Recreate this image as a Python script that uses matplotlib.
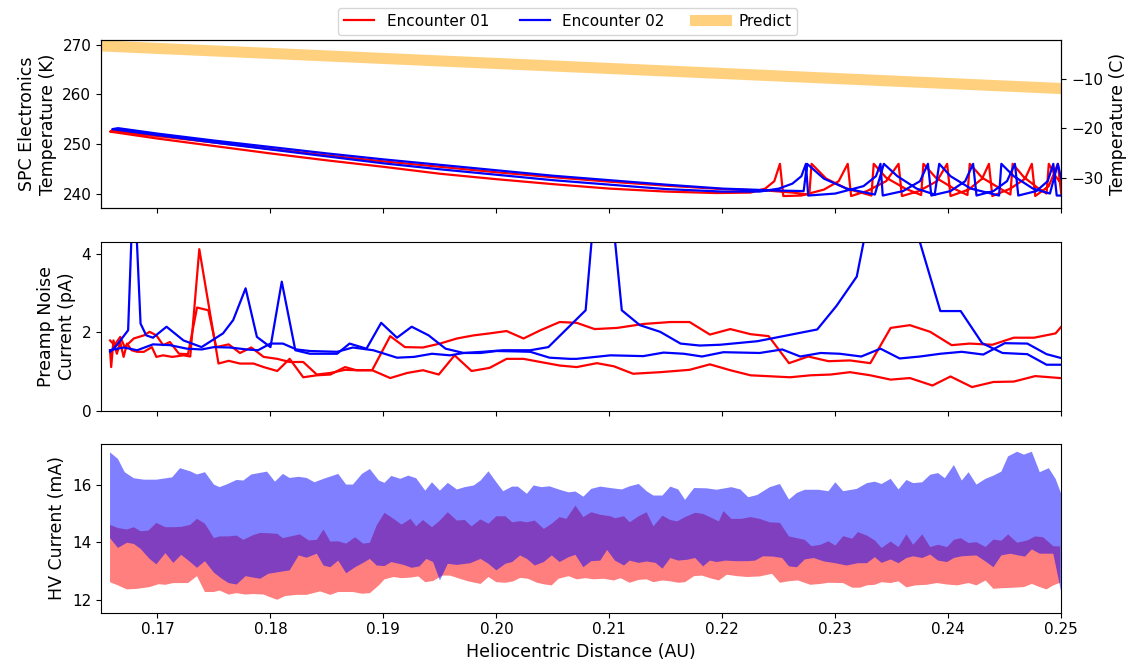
import matplotlib
matplotlib.use("Agg")
import matplotlib.pyplot as plt
from matplotlib.lines import Line2D

plt.rcParams['font.size'] = 11
plt.rcParams['axes.labelsize'] = 12.5

# --- SPC electronics temperature (K), two legs per encounter ---
e1_in_x = [0.1658, 0.170, 0.175, 0.180, 0.185, 0.190, 0.195, 0.200, 0.205, 0.210, 0.215, 0.2195,
           0.2225, 0.2238, 0.2246, 0.2251, 0.2254, 0.2270, 0.2290, 0.2303, 0.2311, 0.2314, 0.2328,
           0.2345, 0.2356, 0.2359, 0.2374, 0.2390, 0.2399, 0.2402, 0.2418, 0.2430, 0.2436, 0.2439,
           0.2455, 0.2468, 0.2474, 0.2477, 0.2489, 0.2497, 0.2500]
e1_in_t = [252.5, 251.1, 249.6, 248.1, 246.7, 245.4, 244.0, 242.9, 241.9, 241.0, 240.4, 240.1,
           240.2, 241.0, 242.5, 246.0, 239.5, 239.6, 240.8, 242.5, 246.0, 239.5, 240.5,
           242.5, 246.0, 239.5, 240.5, 242.5, 246.0, 239.5, 240.8, 243.0, 246.0, 239.5,
           241.0, 243.0, 246.0, 239.5, 241.5, 246.0, 240.0]
e1_out_x = [0.1660, 0.170, 0.175, 0.180, 0.185, 0.190, 0.195, 0.200, 0.205, 0.210, 0.215, 0.220,
            0.2240, 0.2262, 0.2277, 0.2279, 0.2292, 0.2310, 0.2332, 0.2334, 0.2345, 0.2362, 0.2376,
            0.2378, 0.2389, 0.2405, 0.2417, 0.2419, 0.2430, 0.2446, 0.2455, 0.2457, 0.2467, 0.2480,
            0.2487, 0.2489, 0.2495, 0.2500]
e1_out_t = [252.8, 251.6, 250.3, 249.0, 247.7, 246.5, 245.4, 244.3, 243.3, 242.4, 241.6, 240.9,
            240.6, 240.2, 239.8, 246.0, 243.0, 241.0, 239.6, 246.0, 243.2, 241.0, 239.7,
            246.0, 243.2, 241.0, 239.7, 246.0, 243.2, 241.0, 239.8, 246.0, 243.3, 241.0,
            240.0, 246.0, 243.5, 242.0]
e2_in_x = [0.1660, 0.170, 0.175, 0.180, 0.185, 0.190, 0.195, 0.200, 0.205, 0.210, 0.215, 0.220,
           0.2233, 0.2250, 0.2262, 0.2270, 0.2274, 0.2276, 0.2300, 0.2325, 0.2336, 0.2340, 0.2342,
           0.2360, 0.2375, 0.2382, 0.2385, 0.2402, 0.2415, 0.2422, 0.2425, 0.2440, 0.2452, 0.2459,
           0.2462, 0.2478, 0.2488, 0.2493, 0.2496, 0.2500]
e2_in_t = [253.0, 251.8, 250.3, 248.9, 247.5, 246.1, 244.9, 243.8, 242.7, 241.8, 240.9, 240.4,
           240.4, 241.0, 242.0, 243.5, 246.0, 239.6, 240.0, 241.5, 243.5, 246.0, 239.6,
           240.5, 242.5, 246.0, 239.6, 240.5, 242.5, 246.0, 239.6, 240.5, 242.5, 246.0,
           239.6, 240.5, 242.5, 246.0, 239.6, 239.6]
e2_out_x = [0.1665, 0.170, 0.175, 0.180, 0.185, 0.190, 0.195, 0.200, 0.205, 0.210, 0.215, 0.220,
            0.2250, 0.2272, 0.2275, 0.2290, 0.2310, 0.2335, 0.2343, 0.2355, 0.2372, 0.2388, 0.2392,
            0.2402, 0.2420, 0.2445, 0.2447, 0.2458, 0.2475, 0.2490, 0.2497, 0.2500]
e2_out_t = [253.2, 252.1, 250.7, 249.4, 248.1, 246.9, 245.8, 244.7, 243.6, 242.7, 241.8, 241.0,
            240.6, 240.5, 246.0, 243.0, 241.0, 239.8, 246.0, 243.5, 241.0, 239.8, 246.0,
            243.5, 241.0, 239.6, 246.0, 243.5, 241.0, 240.0, 246.0, 243.0]
predict_x = [0.165, 0.250]
predict_t = [269.8, 261.2]

# --- preamp noise current (pA) ---
n1a_x = [0.1658, 0.1659, 0.1661, 0.1664, 0.1667, 0.1670, 0.1673, 0.1677, 0.1682, 0.1688, 0.1695,
         0.1699, 0.1705, 0.1713, 0.1723, 0.1729, 0.1737, 0.1754, 0.1763, 0.1773, 0.1785, 0.1794,
         0.1806, 0.1817, 0.1829, 0.1841, 0.1853, 0.1866, 0.1876, 0.1890, 0.1906, 0.1919, 0.1935,
         0.1950, 0.1965, 0.1980, 0.1994, 0.2009, 0.2024, 0.2039, 0.2056, 0.2071, 0.2087, 0.2107,
         0.2130, 0.2154, 0.2171, 0.2189, 0.2207, 0.2225, 0.2241, 0.2259, 0.2276, 0.2294, 0.2313,
         0.2331, 0.2349, 0.2366, 0.2384, 0.2403, 0.2419, 0.2439, 0.2458, 0.2476, 0.2495, 0.2500]
n1a_y = [1.54, 1.11, 1.79, 1.45, 1.75, 1.37, 1.71, 1.54, 1.50, 1.50, 1.62,
         1.37, 1.41, 1.37, 1.41, 1.38, 4.12, 1.20, 1.27, 1.20, 1.20, 1.11,
         1.01, 1.32, 0.85, 0.90, 0.92, 1.11, 1.03, 1.03, 1.90, 1.62, 1.61,
         1.71, 1.84, 1.92, 1.97, 2.03, 1.84, 2.05, 2.26, 2.24, 2.08, 2.11,
         2.21, 2.26, 2.26, 1.94, 2.08, 1.95, 1.90, 1.21, 1.38, 1.26, 1.28,
         1.21, 2.11, 2.18, 2.01, 1.67, 1.71, 1.68, 1.86, 1.86, 1.97, 2.14]
n1b_x = [0.1658, 0.1662, 0.1667, 0.1671, 0.1679, 0.1688, 0.1693, 0.1699, 0.1705, 0.1711, 0.1719,
         0.1727, 0.1735, 0.1745, 0.1752, 0.1763, 0.1773, 0.1783, 0.1794, 0.1806, 0.1817, 0.1829,
         0.1841, 0.1853, 0.1866, 0.1876, 0.1890, 0.1906, 0.1921, 0.1935, 0.1949, 0.1963, 0.1978,
         0.1994, 0.2009, 0.2024, 0.2039, 0.2056, 0.2071, 0.2089, 0.2104, 0.2121, 0.2145, 0.2171,
         0.2189, 0.2207, 0.2225, 0.2260, 0.2278, 0.2296, 0.2313, 0.2331, 0.2349, 0.2366, 0.2386,
         0.2402, 0.2421, 0.2440, 0.2458, 0.2477, 0.2499]
n1b_y = [1.79, 1.67, 1.88, 1.62, 1.84, 1.92, 2.01, 1.92, 1.67, 1.75, 1.45,
         1.44, 2.63, 2.56, 1.62, 1.69, 1.47, 1.61, 1.37, 1.32, 1.24, 1.24,
         0.92, 0.96, 1.04, 1.03, 1.03, 0.83, 0.96, 1.03, 0.92, 1.41, 1.01,
         1.09, 1.32, 1.32, 1.24, 1.15, 1.11, 1.21, 1.13, 0.94, 0.98, 1.04,
         1.18, 1.03, 0.90, 0.85, 0.90, 0.92, 0.98, 0.90, 0.79, 0.83, 0.64,
         0.87, 0.60, 0.73, 0.74, 0.88, 0.83]
n2a_x = [0.1658, 0.1664, 0.1674, 0.1679, 0.1685, 0.1690, 0.1696, 0.1708, 0.1723, 0.1739, 0.1758,
         0.1767, 0.1778, 0.1788, 0.1800, 0.1810, 0.1822, 0.1835, 0.1859, 0.1870, 0.1885, 0.1898,
         0.1912, 0.1925, 0.1940, 0.1955, 0.1971, 0.1988, 0.2006, 0.2030, 0.2046, 0.2079, 0.2094,
         0.2111, 0.2127, 0.2145, 0.2163, 0.2180, 0.2198, 0.2231, 0.2284, 0.2301, 0.2319, 0.2345,
         0.2393, 0.2411, 0.2430, 0.2448, 0.2470, 0.2487, 0.2500]
n2a_y = [1.50, 1.67, 2.05, 6.10, 2.22, 1.92, 1.86, 2.14, 1.79, 1.62, 1.97,
         2.31, 3.12, 1.88, 1.62, 3.29, 1.54, 1.45, 1.45, 1.71, 1.58, 2.24,
         1.86, 2.14, 1.92, 1.58, 1.47, 1.50, 1.54, 1.54, 1.62, 2.56, 7.60,
         2.56, 2.18, 2.01, 1.71, 1.66, 1.68, 1.77, 2.07, 2.67, 3.42, 7.20,
         2.54, 2.54, 1.72, 1.47, 1.44, 1.17, 1.17]
n2b_x = [0.1658, 0.1670, 0.1682, 0.1696, 0.1711, 0.1726, 0.1739, 0.1750, 0.1764, 0.1779, 0.1789,
         0.1800, 0.1811, 0.1823, 0.1835, 0.1859, 0.1873, 0.1891, 0.1912, 0.1927, 0.1943, 0.1959,
         0.1971, 0.1986, 0.2000, 0.2018, 0.2030, 0.2047, 0.2065, 0.2071, 0.2101, 0.2130, 0.2148,
         0.2166, 0.2182, 0.2201, 0.2233, 0.2253, 0.2269, 0.2287, 0.2304, 0.2323, 0.2340, 0.2357,
         0.2375, 0.2393, 0.2412, 0.2431, 0.2450, 0.2470, 0.2487, 0.2500]
n2b_y = [1.54, 1.61, 1.54, 1.69, 1.67, 1.58, 1.56, 1.62, 1.61, 1.56, 1.54,
         1.71, 1.71, 1.56, 1.52, 1.50, 1.61, 1.54, 1.35, 1.37, 1.45, 1.41,
         1.47, 1.47, 1.52, 1.51, 1.50, 1.35, 1.32, 1.32, 1.41, 1.39, 1.48,
         1.45, 1.38, 1.49, 1.47, 1.56, 1.38, 1.47, 1.45, 1.38, 1.58, 1.33,
         1.38, 1.45, 1.50, 1.43, 1.72, 1.71, 1.44, 1.34]

# --- HV current (mA): envelope edges for each encounter ---
hv2_top_x = [0.1658, 0.1665, 0.1671, 0.1679, 0.1688, 0.1699, 0.1713, 0.1720, 0.1729, 0.1735,
             0.1742, 0.1750, 0.1755, 0.1761, 0.1770, 0.1776, 0.1783, 0.1797, 0.1804, 0.1811,
             0.1817, 0.1825, 0.1832, 0.1839, 0.1847, 0.1860, 0.1867, 0.1873, 0.1881, 0.1888,
             0.1896, 0.1901, 0.1907, 0.1915, 0.1922, 0.1929, 0.1937, 0.1943, 0.1950, 0.1957,
             0.1965, 0.1972, 0.1980, 0.1986, 0.1993, 0.2000, 0.2006, 0.2014, 0.2019, 0.2027,
             0.2033, 0.2040, 0.2047, 0.2056, 0.2064, 0.2070, 0.2077, 0.2084, 0.2092, 0.2101,
             0.2111, 0.2118, 0.2126, 0.2133, 0.2139, 0.2147, 0.2154, 0.2161, 0.2167, 0.2175,
             0.2186, 0.2195, 0.2208, 0.2216, 0.2223, 0.2231, 0.2242, 0.2251, 0.2259, 0.2266,
             0.2273, 0.2285, 0.2294, 0.2300, 0.2307, 0.2319, 0.2328, 0.2335, 0.2341, 0.2349,
             0.2356, 0.2363, 0.2369, 0.2377, 0.2384, 0.2391, 0.2397, 0.2405, 0.2412, 0.2418,
             0.2425, 0.2433, 0.2440, 0.2447, 0.2453, 0.2461, 0.2467, 0.2474, 0.2481, 0.2489,
             0.2495, 0.2500]
hv2_top = [17.12, 16.89, 16.43, 16.22, 16.17, 16.17, 16.25, 16.57, 16.46, 16.35,
           16.43, 16.00, 15.91, 16.00, 16.16, 16.14, 16.35, 16.45, 16.10, 16.37,
           16.23, 16.27, 16.23, 16.08, 16.20, 16.37, 16.00, 16.00, 16.37, 16.54,
           16.14, 16.06, 16.30, 16.20, 16.31, 16.22, 15.79, 16.08, 15.79, 16.06,
           15.83, 15.91, 15.97, 16.14, 16.46, 16.08, 15.77, 15.93, 15.93, 15.68,
           15.97, 15.91, 15.94, 15.82, 15.73, 15.76, 15.58, 15.85, 15.93, 15.88,
           15.83, 15.94, 16.02, 15.77, 15.62, 15.62, 15.93, 15.83, 15.47, 15.88,
           15.87, 15.82, 15.91, 15.83, 15.56, 15.64, 15.91, 16.02, 15.48, 15.71,
           15.82, 15.82, 15.77, 16.08, 15.77, 15.85, 16.05, 16.10, 16.02, 16.20,
           15.83, 16.16, 16.05, 16.08, 16.34, 16.40, 16.22, 16.68, 16.14, 16.43,
           16.00, 16.20, 16.31, 16.45, 16.98, 17.14, 17.04, 17.14, 16.43, 16.57,
           16.20, 15.68]
hv2_bot_x = [0.1658, 0.1665, 0.1673, 0.1679, 0.1685, 0.1693, 0.1699, 0.1707, 0.1714, 0.1721,
             0.1729, 0.1735, 0.1742, 0.1750, 0.1757, 0.1763, 0.1770, 0.1778, 0.1785, 0.1791,
             0.1798, 0.1807, 0.1817, 0.1825, 0.1832, 0.1841, 0.1847, 0.1853, 0.1860, 0.1867,
             0.1875, 0.1882, 0.1888, 0.1894, 0.1901, 0.1907, 0.1918, 0.1925, 0.1932, 0.1938,
             0.1944, 0.1950, 0.1957, 0.1965, 0.1977, 0.1986, 0.1993, 0.2000, 0.2008, 0.2014,
             0.2021, 0.2027, 0.2034, 0.2042, 0.2049, 0.2056, 0.2064, 0.2070, 0.2077, 0.2084,
             0.2092, 0.2098, 0.2105, 0.2113, 0.2118, 0.2126, 0.2133, 0.2141, 0.2147, 0.2154,
             0.2161, 0.2169, 0.2176, 0.2183, 0.2189, 0.2195, 0.2203, 0.2211, 0.2222, 0.2229,
             0.2236, 0.2245, 0.2253, 0.2259, 0.2266, 0.2273, 0.2281, 0.2290, 0.2300, 0.2310,
             0.2320, 0.2328, 0.2335, 0.2341, 0.2349, 0.2356, 0.2363, 0.2369, 0.2377, 0.2384,
             0.2391, 0.2399, 0.2405, 0.2412, 0.2425, 0.2433, 0.2440, 0.2447, 0.2455, 0.2462,
             0.2468, 0.2474, 0.2481, 0.2487, 0.2493, 0.2500]
hv2_bot = [14.14, 13.80, 13.98, 13.94, 13.77, 13.42, 13.23, 13.62, 13.28, 13.56,
           13.31, 13.11, 13.34, 12.94, 12.73, 12.58, 12.53, 12.82, 12.77, 12.73,
           12.90, 12.96, 13.02, 13.54, 13.46, 13.60, 13.19, 13.13, 13.36, 12.92,
           13.13, 13.28, 13.42, 13.19, 13.17, 13.31, 13.21, 13.11, 13.16, 13.42,
           13.31, 12.67, 13.25, 13.21, 13.27, 13.42, 13.25, 13.02, 13.25, 13.31,
           13.54, 13.42, 13.19, 13.31, 13.54, 13.31, 13.48, 13.56, 13.13, 13.34,
           13.36, 13.73, 13.36, 13.19, 13.36, 13.28, 13.33, 13.28, 13.08, 13.45,
           13.36, 13.39, 13.45, 13.16, 13.36, 13.31, 13.36, 13.34, 13.34, 13.36,
           13.51, 13.50, 13.45, 13.16, 13.13, 13.40, 13.45, 13.33, 13.27, 13.19,
           13.27, 13.27, 13.48, 13.28, 13.40, 13.27, 13.45, 13.51, 13.45, 13.57,
           13.36, 13.31, 13.45, 13.51, 13.54, 13.33, 13.13, 13.54, 13.60, 13.54,
           13.50, 13.75, 13.60, 13.60, 13.60, 12.27]
hv1_top_x = [0.1658, 0.1665, 0.1673, 0.1679, 0.1685, 0.1692, 0.1699, 0.1707, 0.1714, 0.1721,
             0.1729, 0.1735, 0.1742, 0.1750, 0.1755, 0.1763, 0.1770, 0.1776, 0.1785, 0.1791,
             0.1798, 0.1806, 0.1811, 0.1819, 0.1826, 0.1834, 0.1841, 0.1847, 0.1853, 0.1860,
             0.1867, 0.1875, 0.1882, 0.1888, 0.1894, 0.1901, 0.1909, 0.1916, 0.1924, 0.1929,
             0.1935, 0.1943, 0.1950, 0.1957, 0.1965, 0.1972, 0.1978, 0.1986, 0.1993, 0.2000,
             0.2008, 0.2014, 0.2021, 0.2027, 0.2034, 0.2042, 0.2049, 0.2056, 0.2062, 0.2070,
             0.2077, 0.2084, 0.2092, 0.2101, 0.2105, 0.2113, 0.2118, 0.2126, 0.2133, 0.2139,
             0.2147, 0.2154, 0.2160, 0.2167, 0.2176, 0.2183, 0.2189, 0.2197, 0.2201, 0.2208,
             0.2217, 0.2225, 0.2233, 0.2242, 0.2251, 0.2259, 0.2266, 0.2273, 0.2279, 0.2287,
             0.2294, 0.2300, 0.2307, 0.2315, 0.2320, 0.2328, 0.2335, 0.2341, 0.2349, 0.2356,
             0.2363, 0.2369, 0.2377, 0.2384, 0.2391, 0.2399, 0.2405, 0.2411, 0.2418, 0.2425,
             0.2433, 0.2440, 0.2447, 0.2453, 0.2461, 0.2470, 0.2477, 0.2484, 0.2493, 0.2499]
hv1_top = [14.60, 14.49, 14.44, 14.52, 14.38, 14.40, 14.67, 14.52, 14.52, 14.53,
           14.60, 14.81, 14.64, 14.14, 14.20, 14.20, 14.23, 14.08, 14.25, 14.32,
           14.31, 14.29, 14.14, 14.21, 14.27, 14.06, 14.08, 14.44, 14.02, 14.03,
           13.95, 14.17, 13.95, 13.98, 14.58, 15.02, 14.81, 14.61, 14.81, 14.55,
           14.77, 14.52, 14.75, 15.04, 14.75, 14.77, 14.55, 14.79, 14.64, 14.90,
           14.90, 14.69, 14.73, 14.69, 14.75, 14.46, 14.64, 14.87, 14.81, 15.27,
           14.87, 15.04, 14.95, 14.90, 14.83, 14.90, 14.69, 14.90, 15.04, 14.55,
           14.92, 14.77, 14.72, 14.87, 15.02, 14.98, 14.87, 14.72, 15.08, 14.81,
           14.81, 14.87, 14.81, 14.69, 14.67, 14.20, 14.14, 14.08, 13.86, 13.91,
           14.03, 13.88, 14.21, 14.12, 14.35, 14.23, 14.06, 13.80, 14.02, 13.83,
           14.27, 13.91, 14.27, 13.83, 13.91, 13.83, 14.08, 14.14, 13.97, 14.00,
           13.83, 14.09, 14.05, 14.27, 13.98, 14.06, 14.20, 14.17, 13.86, 13.85]
hv1_bot_x = [0.1658, 0.1665, 0.1673, 0.1682, 0.1693, 0.1701, 0.1707, 0.1714, 0.1727, 0.1735,
             0.1742, 0.1750, 0.1755, 0.1763, 0.1770, 0.1778, 0.1785, 0.1794, 0.1801, 0.1806,
             0.1813, 0.1823, 0.1832, 0.1844, 0.1853, 0.1860, 0.1873, 0.1881, 0.1888, 0.1896,
             0.1901, 0.1909, 0.1916, 0.1924, 0.1931, 0.1937, 0.1944, 0.1952, 0.1959, 0.1966,
             0.1975, 0.1986, 0.1993, 0.2000, 0.2008, 0.2015, 0.2021, 0.2028, 0.2036, 0.2043,
             0.2049, 0.2055, 0.2064, 0.2071, 0.2079, 0.2086, 0.2095, 0.2104, 0.2110, 0.2118,
             0.2126, 0.2133, 0.2139, 0.2147, 0.2154, 0.2161, 0.2167, 0.2175, 0.2182, 0.2189,
             0.2197, 0.2204, 0.2213, 0.2222, 0.2233, 0.2244, 0.2251, 0.2260, 0.2267, 0.2278,
             0.2287, 0.2294, 0.2307, 0.2315, 0.2322, 0.2328, 0.2335, 0.2341, 0.2349, 0.2356,
             0.2363, 0.2371, 0.2381, 0.2390, 0.2399, 0.2408, 0.2418, 0.2425, 0.2433, 0.2440,
             0.2447, 0.2458, 0.2467, 0.2474, 0.2481, 0.2487, 0.2493, 0.2499]
hv1_bot = [12.61, 12.50, 12.36, 12.38, 12.44, 12.54, 12.52, 12.58, 12.58, 12.82,
           12.27, 12.27, 12.32, 12.18, 12.23, 12.18, 12.20, 12.18, 12.07, 12.00,
           12.13, 12.17, 12.17, 12.29, 12.17, 12.27, 12.27, 12.21, 12.23, 12.50,
           12.71, 12.79, 12.75, 12.77, 12.81, 12.61, 12.65, 12.84, 12.84, 12.75,
           12.64, 12.55, 12.79, 12.61, 12.59, 12.64, 12.76, 12.73, 12.59, 12.53,
           12.50, 12.73, 12.82, 12.71, 12.75, 12.71, 12.73, 12.67, 12.75, 12.59,
           12.69, 12.71, 12.61, 12.67, 12.64, 12.59, 12.61, 12.82, 12.84, 12.75,
           12.67, 12.87, 12.82, 12.79, 12.81, 12.90, 12.59, 12.65, 12.67, 12.52,
           12.55, 12.59, 12.58, 12.42, 12.42, 12.50, 12.52, 12.61, 12.58, 12.64,
           12.43, 12.50, 12.52, 12.58, 12.53, 12.50, 12.58, 12.50, 12.67, 12.38,
           12.40, 12.42, 12.44, 12.55, 12.44, 12.36, 12.50, 12.59]

x_ticks = [0.17, 0.18, 0.19, 0.20, 0.21, 0.22, 0.23, 0.24, 0.25]

fig, (ax1, ax2, ax3) = plt.subplots(3, 1, sharex=True, figsize=(11.35, 6.66), dpi=100)
fig.subplots_adjust(left=0.089, right=0.935, top=0.94, bottom=0.08, hspace=0.2)

# top: temperatures, each encounter drawn as one line (in leg reversed, then out leg)
e1_x = e1_in_x[::-1] + e1_out_x
e1_t = e1_in_t[::-1] + e1_out_t
e2_x = e2_in_x[::-1] + e2_out_x
e2_t = e2_in_t[::-1] + e2_out_t
ax1.plot(predict_x, predict_t, color='orange', alpha=0.5, lw=8, solid_capstyle='butt')
ax1.plot(e1_x, e1_t, color='red', lw=1.6)
ax1.plot(e2_x, e2_t, color='blue', lw=1.6)
ax1.set_ylim(237, 271)
ax1.set_yticks([240, 250, 260, 270])
ax1.set_ylabel('SPC Electronics\nTemperature (K)')
ax1r = ax1.twinx()
ax1r.set_ylim(237 - 273.15, 271 - 273.15)
ax1r.set_yticks([-30, -20, -10])
ax1r.set_ylabel('Temperature (C)')

# middle: preamp noise
ax2.plot(n1a_x, n1a_y, color='red', lw=1.6)
ax2.plot(n1b_x, n1b_y, color='red', lw=1.6)
ax2.plot(n2a_x, n2a_y, color='blue', lw=1.6)
ax2.plot(n2b_x, n2b_y, color='blue', lw=1.6)
ax2.set_ylim(0, 4.3)
ax2.set_yticks([0, 2, 4])
ax2.set_ylabel('Preamp Noise\nCurrent (pA)')

# bottom: HV current envelopes
ax3.fill(hv1_top_x + hv1_bot_x[::-1], hv1_top + hv1_bot[::-1], color='red', alpha=0.5, lw=0)
ax3.fill(hv2_top_x + hv2_bot_x[::-1], hv2_top + hv2_bot[::-1], color='blue', alpha=0.5, lw=0)
ax3.set_ylim(11.55, 17.4)
ax3.set_yticks([12, 14, 16])
ax3.set_ylabel('HV Current (mA)')
ax3.set_xlabel('Heliocentric Distance (AU)')
ax3.set_xlim(0.165, 0.25)
ax3.set_xticks(x_ticks)
ax3.set_xticklabels(['%.2f' % v for v in x_ticks])

handles = [Line2D([], [], color='red', lw=1.6),
           Line2D([], [], color='blue', lw=1.6),
           Line2D([], [], color='orange', alpha=0.5, lw=8)]
fig.legend(handles, ['Encounter 01', 'Encounter 02', 'Predict'],
           loc='upper center', bbox_to_anchor=(0.5, 1.0), ncol=3, fontsize=11)

fig.savefig('out.png', dpi=100)
